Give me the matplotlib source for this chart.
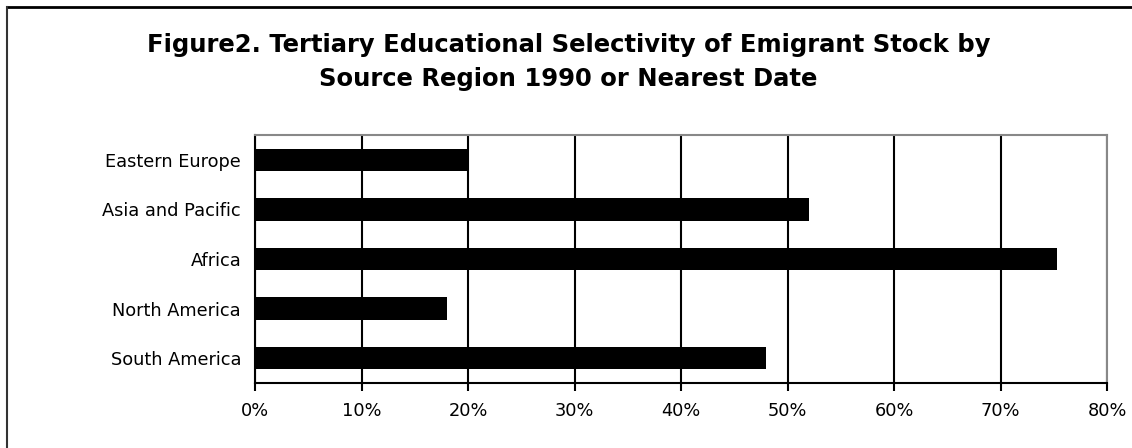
import matplotlib
matplotlib.use('Agg')
import matplotlib.pyplot as plt
from matplotlib.ticker import MultipleLocator, FuncFormatter
from matplotlib.lines import Line2D

# data
regions = ['South America', 'North America', 'Africa', 'Asia and Pacific', 'Eastern Europe']
selectivity = [48, 18, 75.3, 52, 20]  # percent

fig = plt.figure(figsize=(11.32, 4.48), dpi=100)
ax = fig.add_axes([255/1132, 1-383/448, 852/1132, 248/448])

ax.barh(range(len(regions)), selectivity, height=0.45, color='black', zorder=3)
ax.set_xlim(0, 80)
ax.set_ylim(-0.5, len(regions)-0.5)
ax.xaxis.set_major_locator(MultipleLocator(10))
ax.xaxis.set_major_formatter(FuncFormatter(lambda v, p: '{:.0f}%'.format(v)))
ax.set_yticks(range(len(regions)))
ax.set_yticklabels(regions)
ax.grid(axis='x', color='black', linewidth=1.5, zorder=0)

for s in ['top', 'right']:
    ax.spines[s].set_color('#888888')
    ax.spines[s].set_linewidth(1.5)
ax.spines['bottom'].set_linewidth(1.5)
ax.spines['left'].set_linewidth(1.5)
ax.tick_params(axis='x', length=6, width=1.5, labelsize=12.8, pad=8)
ax.tick_params(axis='y', length=0, labelsize=12.8, pad=10)
for lab in ax.get_yticklabels():
    lab.set_va('center_baseline')

fig.text(0.502, 1-62/448, 'Figure2. Tertiary Educational Selectivity of Emigrant Stock by\nSource Region 1990 or Nearest Date',
         ha='center', va='center', fontsize=17.5, fontweight='bold', linespacing=1.5)

# frame lines of the original figure box
fig.add_artist(Line2D([7/1132, 1], [1-7/448, 1-7/448], color='black', linewidth=2, transform=fig.transFigure))
fig.add_artist(Line2D([7/1132, 7/1132], [0, 1-7/448], color='#333333', linewidth=1.5, transform=fig.transFigure))

fig.savefig('out.png', dpi=100)
